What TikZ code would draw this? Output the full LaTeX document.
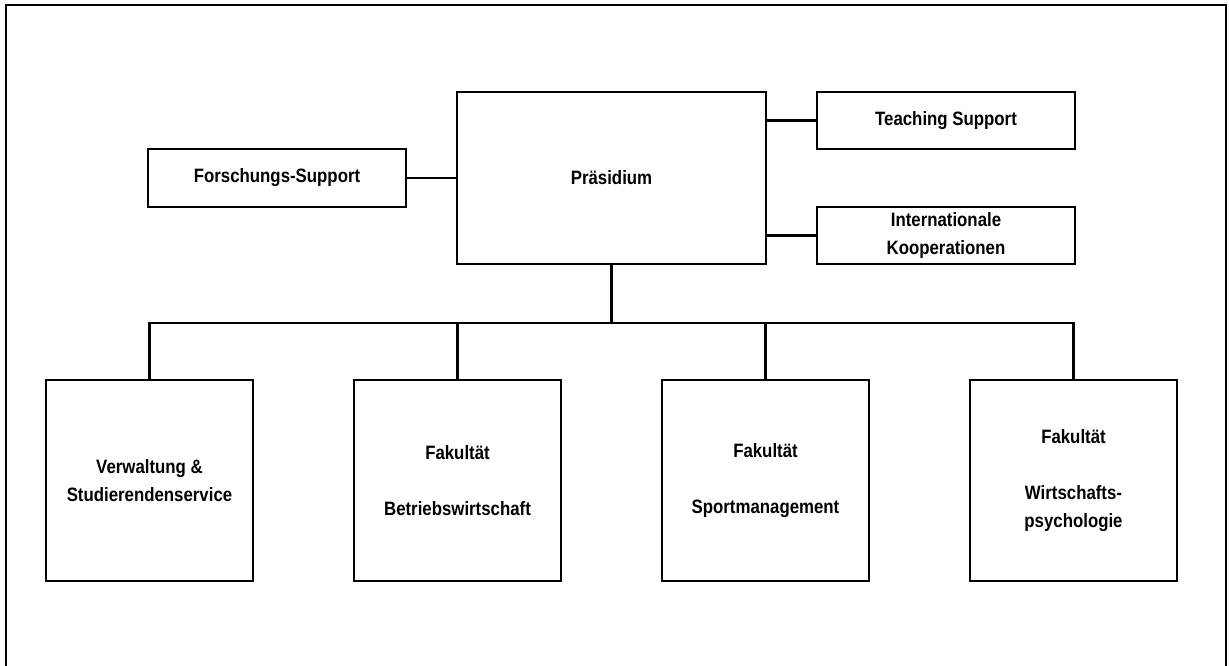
\documentclass[tikz,border=0pt]{standalone}
\usepackage{fontspec}
\setmainfont{Liberation Sans}[FakeStretch=0.87]
\usetikzlibrary{positioning}

\begin{document}
\begin{tikzpicture}[x=0.75pt, y=-0.75pt, line width=1.6pt,
		box/.style={draw, rectangle, align=center, inner sep=2pt, font=\bfseries\fontsize{14.5}{21}\selectfont},
		side/.style={box, minimum width=193.5pt, minimum height=43pt},
		unit/.style={box, minimum width=155pt, minimum height=150.75pt}]
		\useasboundingbox (0,0) rectangle (1229,666);
		\draw (6,672) |- (1226,5) -- (1226,672);
		
		\node[box, minimum width=231.75pt, minimum height=129pt] (praes) at (611.5,178) {Präsidium};
		\node[side] (forsch) at (277,178) {Forschungs-Support};
		\node[side] (teach) at (946,120.5) {Teaching Support};
		\node[side] (intl) at (946,235.5) {Internationale\\Kooperationen};
		
		\begin{scope}[node distance=231pt]
		\node[unit] (verw) at (149.5,480.5) {Verwaltung \&\\Studierendenservice};
		\node[unit] (bwl) [right of=verw] {Fakultät\\[21pt]Betriebswirtschaft};
		\node[unit] (sport) [right of=bwl] {Fakultät\\[21pt]Sportmanagement};
		\node[unit] (wipsy) [right of=sport] {Fakultät\\[21pt]Wirtschafts-\\psychologie};
		\end{scope}
		
		\draw (forsch.east) -- (praes.west);
		\draw (teach.west) -- (teach.west -| praes.east);
		\draw (intl.west) -- (intl.west -| praes.east);
		
		\draw (praes.south) -- ++(0,58) coordinate (bus);
		\foreach \n in {verw,bwl,sport,wipsy}
		\draw (bus) -| (\n.north);
	\end{tikzpicture}
\end{document}
